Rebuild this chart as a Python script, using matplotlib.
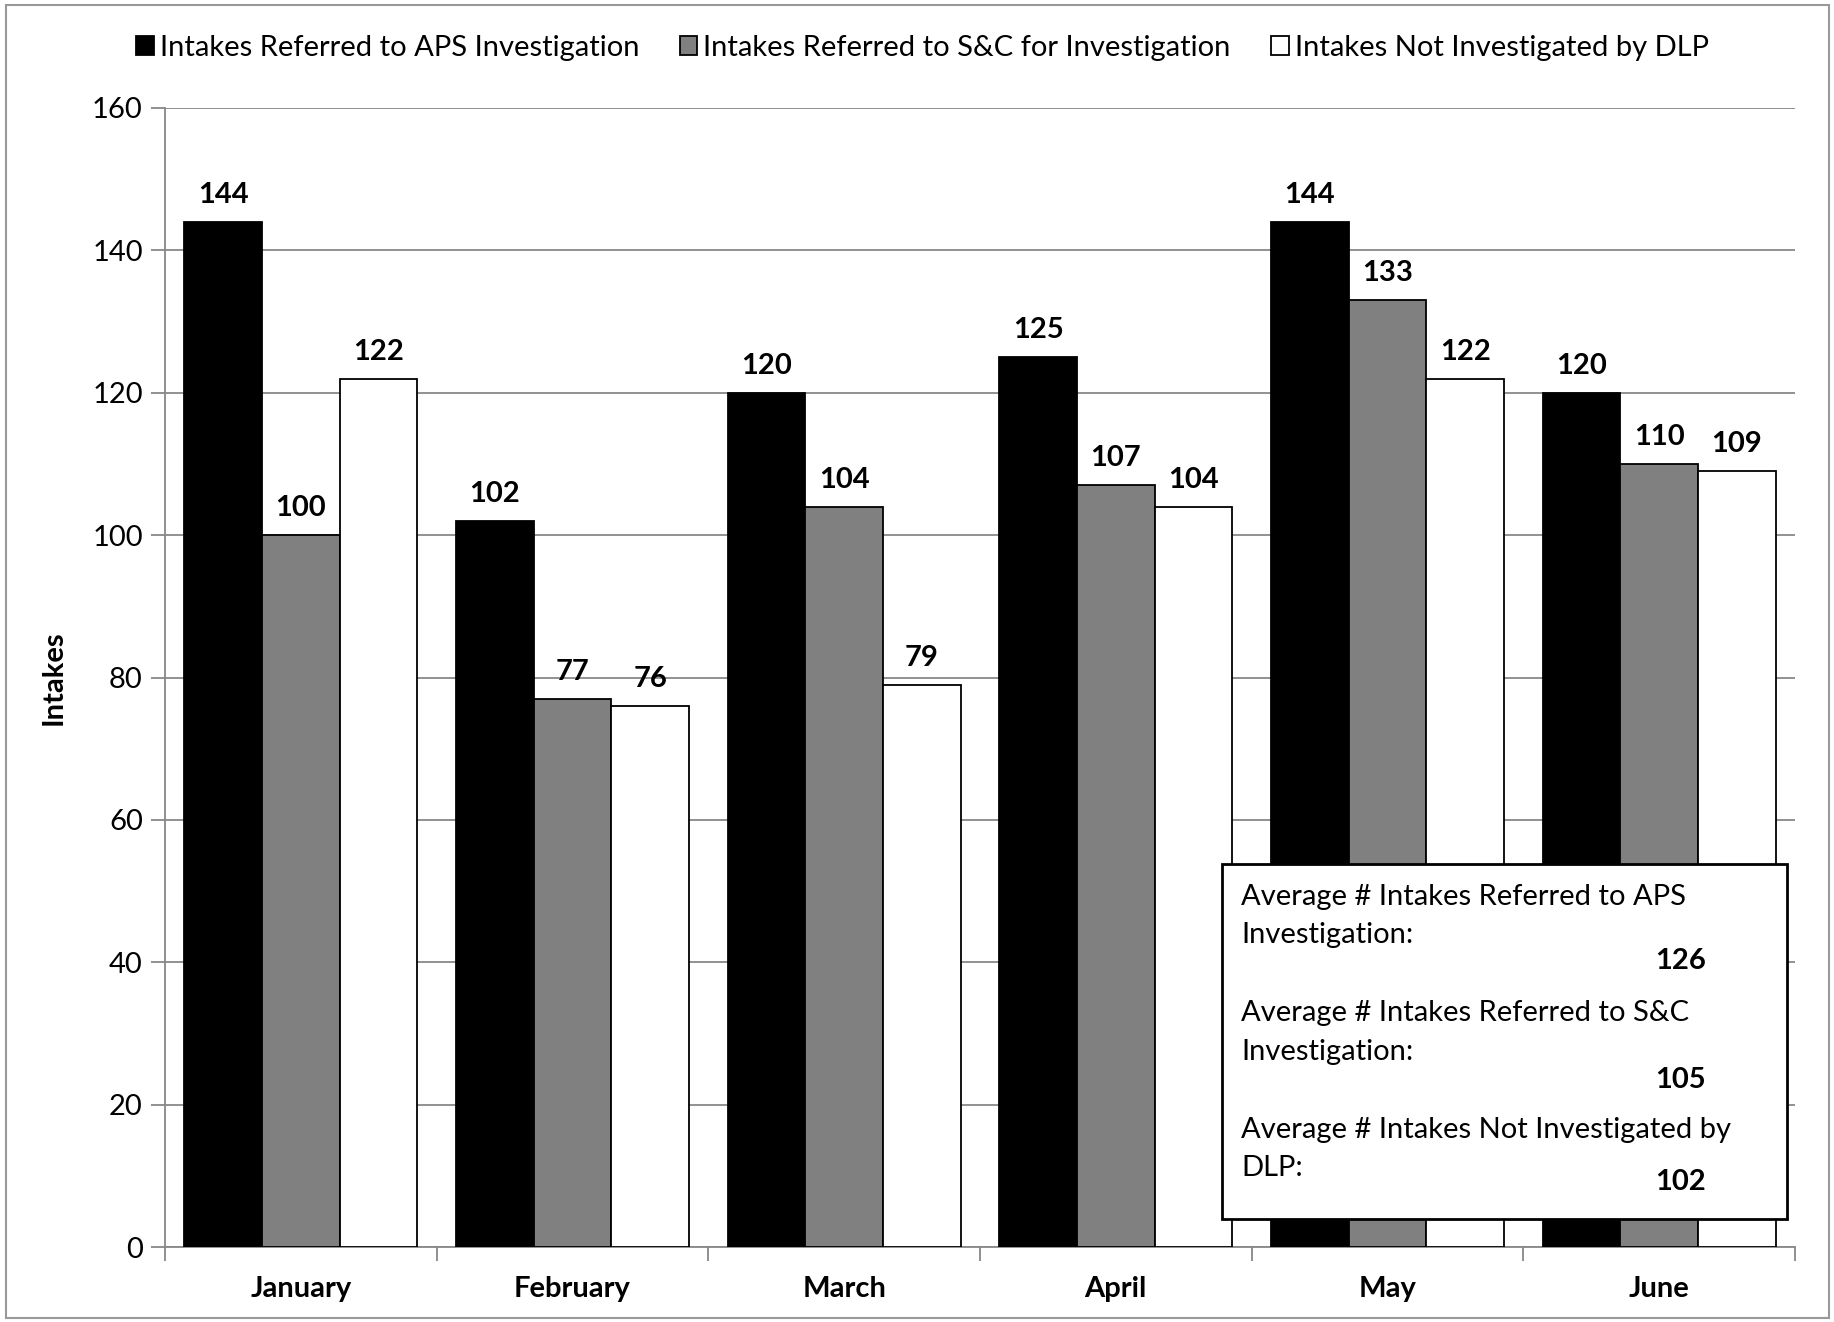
import matplotlib
matplotlib.use("Agg")
import matplotlib.pyplot as plt
import numpy as np
from matplotlib.patches import Rectangle

plt.rcParams['font.family'] = ['Lato', 'DejaVu Sans']

months = ["January", "February", "March", "April", "May", "June"]
series_names = ["Intakes Referred to APS Investigation",
                "Intakes Referred to S&C for Investigation",
                "Intakes Not Investigated by DLP"]
aps = [144, 102, 120, 125, 144, 120]
snc = [100, 77, 104, 107, 133, 110]
not_inv = [122, 76, 79, 104, 122, 109]
series_values = [aps, snc, not_inv]
colors = ["#000000", "#808080", "#ffffff"]
avg_labels = [["Average # Intakes Referred to APS", "Investigation:"],
              ["Average # Intakes Referred to S&C", "Investigation:"],
              ["Average # Intakes Not Investigated by", "DLP:"]]
avg_values = [126, 105, 102]
yticks = [0, 20, 40, 60, 80, 100, 120, 140, 160]

FS = 21
W, H = 1834, 1322
fig = plt.figure(figsize=(W / 100, H / 100), dpi=100)
ax = fig.add_axes([165 / W, 1 - 1247 / H, (1795 - 165) / W, (1247 - 108) / H])

x = np.arange(len(months))
bw = 1 / 3.5
for i, (vals, c) in enumerate(zip(series_values, colors)):
    pos = x + (i - 1) * bw
    ax.bar(pos, vals, width=bw, color=c, edgecolor="#000000", linewidth=1.3,
           label=series_names[i], zorder=3)
    for p, v in zip(pos, vals):
        ax.annotate(str(v), (p, v), xytext=(0, 10), textcoords="offset points",
                    ha="center", va="bottom", fontsize=FS, fontweight="bold", zorder=4)

ax.set_xlim(-0.5, len(months) - 0.5)
ax.set_ylim(0, 160)
ax.set_yticks(yticks)
ax.set_yticklabels([str(t) for t in yticks], fontsize=FS)
ax.yaxis.grid(True, color="#888888", linewidth=1.3, zorder=0)
ax.set_axisbelow(True)
ax.set_xticks(x)
ax.set_xticklabels(months, fontsize=FS, fontweight="bold")
ax.tick_params(axis="x", length=0, pad=21)
ax.set_xticks(np.arange(-0.5, len(months), 1), minor=True)
ax.tick_params(axis="x", which="minor", length=10, color="#888888", width=1.3)
ax.tick_params(axis="y", length=10, color="#888888", width=1.3, pad=6)
for s in ["top", "right"]:
    ax.spines[s].set_visible(False)
for s in ["left", "bottom"]:
    ax.spines[s].set_color("#888888")
    ax.spines[s].set_linewidth(1.3)
ax.set_ylabel("Intakes", fontsize=FS, fontweight="bold", labelpad=18)

leg = fig.legend(loc="center", bbox_to_anchor=(0.503, 1 - 48 / H), ncol=3, frameon=False,
                 fontsize=FS, handlelength=0.6, handleheight=0.6, handletextpad=0.2,
                 columnspacing=1.4)
for h in leg.legend_handles:
    h.set_linewidth(1.3)

# figure border
fig.add_artist(Rectangle((6 / W, 4 / H), (1829 - 6) / W, (1317 - 4) / H,
                         transform=fig.transFigure, fill=False, edgecolor="#999999",
                         linewidth=1.5))

# averages box
bx0, bx1, by0, by1 = 1222, 1787, 864, 1219
fig.add_artist(Rectangle((bx0 / W, 1 - by1 / H), (bx1 - bx0) / W, (by1 - by0) / H,
                         transform=fig.transFigure, facecolor="white", edgecolor="black",
                         linewidth=2, zorder=10))
line_y = [(897, 935), (1013, 1052), (1130, 1168)]
num_y = [961, 1080, 1182]
for lines, ys, v, ny in zip(avg_labels, line_y, avg_values, num_y):
    for txt, yy in zip(lines, ys):
        fig.text(1241 / W, 1 - yy / H, txt, ha="left", va="center", fontsize=FS, zorder=11)
    fig.text(1706 / W, 1 - ny / H, str(v), ha="right", va="center", fontsize=FS,
             fontweight="bold", zorder=11)

fig.savefig("out.png", dpi=100, facecolor="white")
